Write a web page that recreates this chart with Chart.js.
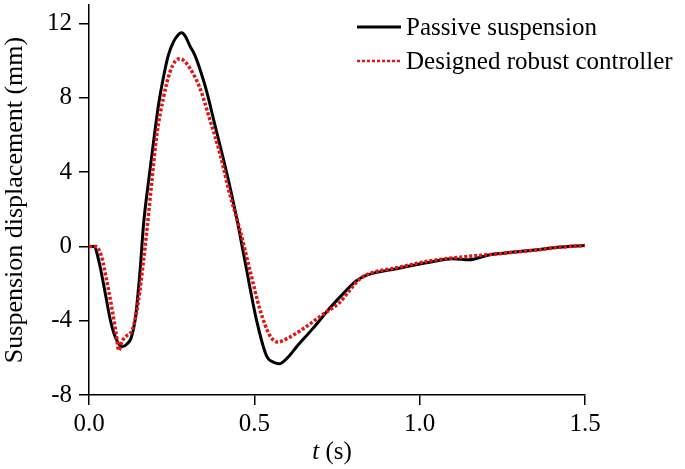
<!DOCTYPE html>
<html>
<head>
<meta charset="utf-8">
<script src="https://cdn.jsdelivr.net/npm/chart.js@4/dist/chart.umd.min.js"></script>
<style>
  html, body { margin: 0; padding: 0; background: #fff; }
</style>
</head>
<body>
<canvas id="c" width="685" height="469"></canvas>
<script>
'use strict';

// ── data ────────────────────────────────────────────────────────────────────

const seriesLabels = ['Passive suspension', 'Designed robust controller'];

const passiveT = [0, 0.015, 0.03, 0.05, 0.065, 0.08, 0.1, 0.115, 0.128, 0.14, 0.154, 0.165,
  0.18, 0.195, 0.21, 0.225, 0.24, 0.255, 0.27, 0.28, 0.292, 0.305, 0.32, 0.34, 0.355,
  0.38, 0.42, 0.447, 0.46, 0.477, 0.507, 0.537, 0.56, 0.575, 0.6, 0.628, 0.678, 0.729,
  0.779, 0.809, 0.84, 0.93, 1.03, 1.1, 1.15, 1.2, 1.233, 1.334, 1.42, 1.5];
const passiveV = [0, 0, -0.8, -2.6, -4.0, -4.9, -5.4, -5.25, -4.9, -3.9, -1.4, 1.2,
  3.5, 5.6, 7.6, 9.1, 10.3, 11.0, 11.4, 11.5, 11.3, 10.8, 10.3, 9.3, 8.4,
  6.6, 3.7, 1.5, 0.3, -1.3, -4.0, -5.9, -6.25, -6.32, -6.0, -5.4, -4.4, -3.3,
  -2.35, -1.85, -1.55, -1.2, -0.85, -0.66, -0.72, -0.5, -0.4, -0.22, -0.05, 0.05];

const robustT = [0, 0.02, 0.038, 0.053, 0.069, 0.082, 0.09, 0.1, 0.115, 0.128, 0.136, 0.149,
  0.164, 0.174, 0.19, 0.205, 0.225, 0.245, 0.262, 0.277, 0.29, 0.305, 0.336, 0.366, 0.396,
  0.426, 0.455, 0.487, 0.517, 0.547, 0.57, 0.6, 0.638, 0.708, 0.759, 0.789, 0.819, 0.85,
  0.93, 1.03, 1.14, 1.25, 1.35, 1.42, 1.5];
const robustV = [0, 0, -0.55, -1.8, -3.3, -4.7, -5.6, -5.1, -4.8, -4.6, -4.2, -3.0,
  -0.9, 0.7, 3.5, 6.0, 8.0, 9.4, 10.0, 10.1, 9.95, 9.6, 8.5, 6.8, 5.0,
  2.8, 1.0, -1.3, -3.4, -4.8, -5.15, -4.95, -4.55, -3.65, -3.0, -2.35, -1.75, -1.45,
  -1.15, -0.78, -0.55, -0.38, -0.2, -0.05, 0.05];

const xTicks = [0, 0.5, 1.0, 1.5];
const yTicks = [-8, -4, 0, 4, 8, 12];

// ── helpers ─────────────────────────────────────────────────────────────────

const SERIF = '"Liberation Serif", "Times New Roman", serif';

function toPoints(ts, vs) {
  return ts.map((t, i) => ({ x: t, y: vs[i] }));
}

// legend in the upper right corner, drawn by hand
const cornerLegend = {
  id: 'cornerLegend',
  afterDraw(chart) {
    const ctx = chart.ctx;
    chart.data.datasets.forEach((ds, i) => {
      const y = 27 + i * 34;
      ctx.save();
      ctx.strokeStyle = ds.borderColor;
      ctx.lineWidth = i ? 2.5 : 3;
      ctx.setLineDash(ds.borderDash || []);
      ctx.beginPath();
      ctx.moveTo(357, y);
      ctx.lineTo(401, y);
      ctx.stroke();
      ctx.setLineDash([]);
      ctx.fillStyle = '#000';
      ctx.font = '25px ' + SERIF;
      ctx.textBaseline = 'middle';
      ctx.fillText(ds.label, 406, y + 1);
      ctx.restore();
    });
  },
};

// x title with italic t
const xTitle = {
  id: 'xTitle',
  afterDraw(chart) {
    const s = chart.scales.x;
    const ctx = chart.ctx;
    ctx.save();
    ctx.fillStyle = '#000';
    ctx.textBaseline = 'middle';
    ctx.font = 'italic 25px ' + SERIF;
    const w1 = ctx.measureText('t').width;
    ctx.font = '25px ' + SERIF;
    const w2 = ctx.measureText(' (s)').width;
    const x = (s.left + s.right) / 2 - 5 - (w1 + w2) / 2;
    const y = 452;
    ctx.font = 'italic 25px ' + SERIF;
    ctx.fillText('t', x, y);
    ctx.font = '25px ' + SERIF;
    ctx.fillText(' (s)', x + w1, y);
    ctx.restore();
  },
};

// ── chart ───────────────────────────────────────────────────────────────────

const ctx = document.getElementById('c').getContext('2d');

new Chart(ctx, {
  type: 'line',
  data: {
    datasets: [
      {
        label: seriesLabels[0],
        data: toPoints(passiveT, passiveV),
        borderColor: '#000000', borderWidth: 3,
        pointRadius: 0, cubicInterpolationMode: 'monotone',
        order: 1,
      },
      {
        label: seriesLabels[1],
        data: toPoints(robustT, robustV),
        borderColor: '#e41414', borderWidth: 3.5, borderDash: [3, 2],
        pointRadius: 0, cubicInterpolationMode: 'monotone',
        order: 0,
      },
    ],
  },
  options: {
    responsive: false,
    animation: false,
    devicePixelRatio: 1,
    layout: { padding: { left: 0, right: 100, top: 5, bottom: 0 } },
    plugins: {
      legend: { display: false },
      tooltip: { enabled: false },
    },
    scales: {
      x: {
        type: 'linear', min: 0, max: 1.5,
        afterBuildTicks: s => { s.ticks = xTicks.map(v => ({ value: v })); },
        afterFit: s => { s.height = 74; s.paddingLeft = 0; },
        grid: { drawOnChartArea: false, tickLength: 10, color: '#000', lineWidth: 1.5 },
        border: { color: '#000', width: 1.5 },
        ticks: {
          color: '#000', padding: 4, maxRotation: 0,
          font: { family: SERIF, size: 25 },
          callback: v => v.toFixed(1),
        },
      },
      y: {
        min: -8, max: 13,
        afterBuildTicks: s => { s.ticks = yTicks.map(v => ({ value: v })); },
        afterFit: s => { s.width = 89; s.paddingTop = 0; s.paddingBottom = 0; },
        grid: { drawOnChartArea: false, tickLength: 10, color: '#000', lineWidth: 1.5 },
        border: { color: '#000', width: 1.5 },
        ticks: {
          color: '#000', padding: 7,
          font: { family: SERIF, size: 25 },
        },
        title: {
          display: true, text: 'Suspension displacement (mm)', color: '#000',
          font: { family: SERIF, size: 26 }, padding: 0,
        },
      },
    },
  },
  plugins: [cornerLegend, xTitle],
});
</script>
</body>
</html>
